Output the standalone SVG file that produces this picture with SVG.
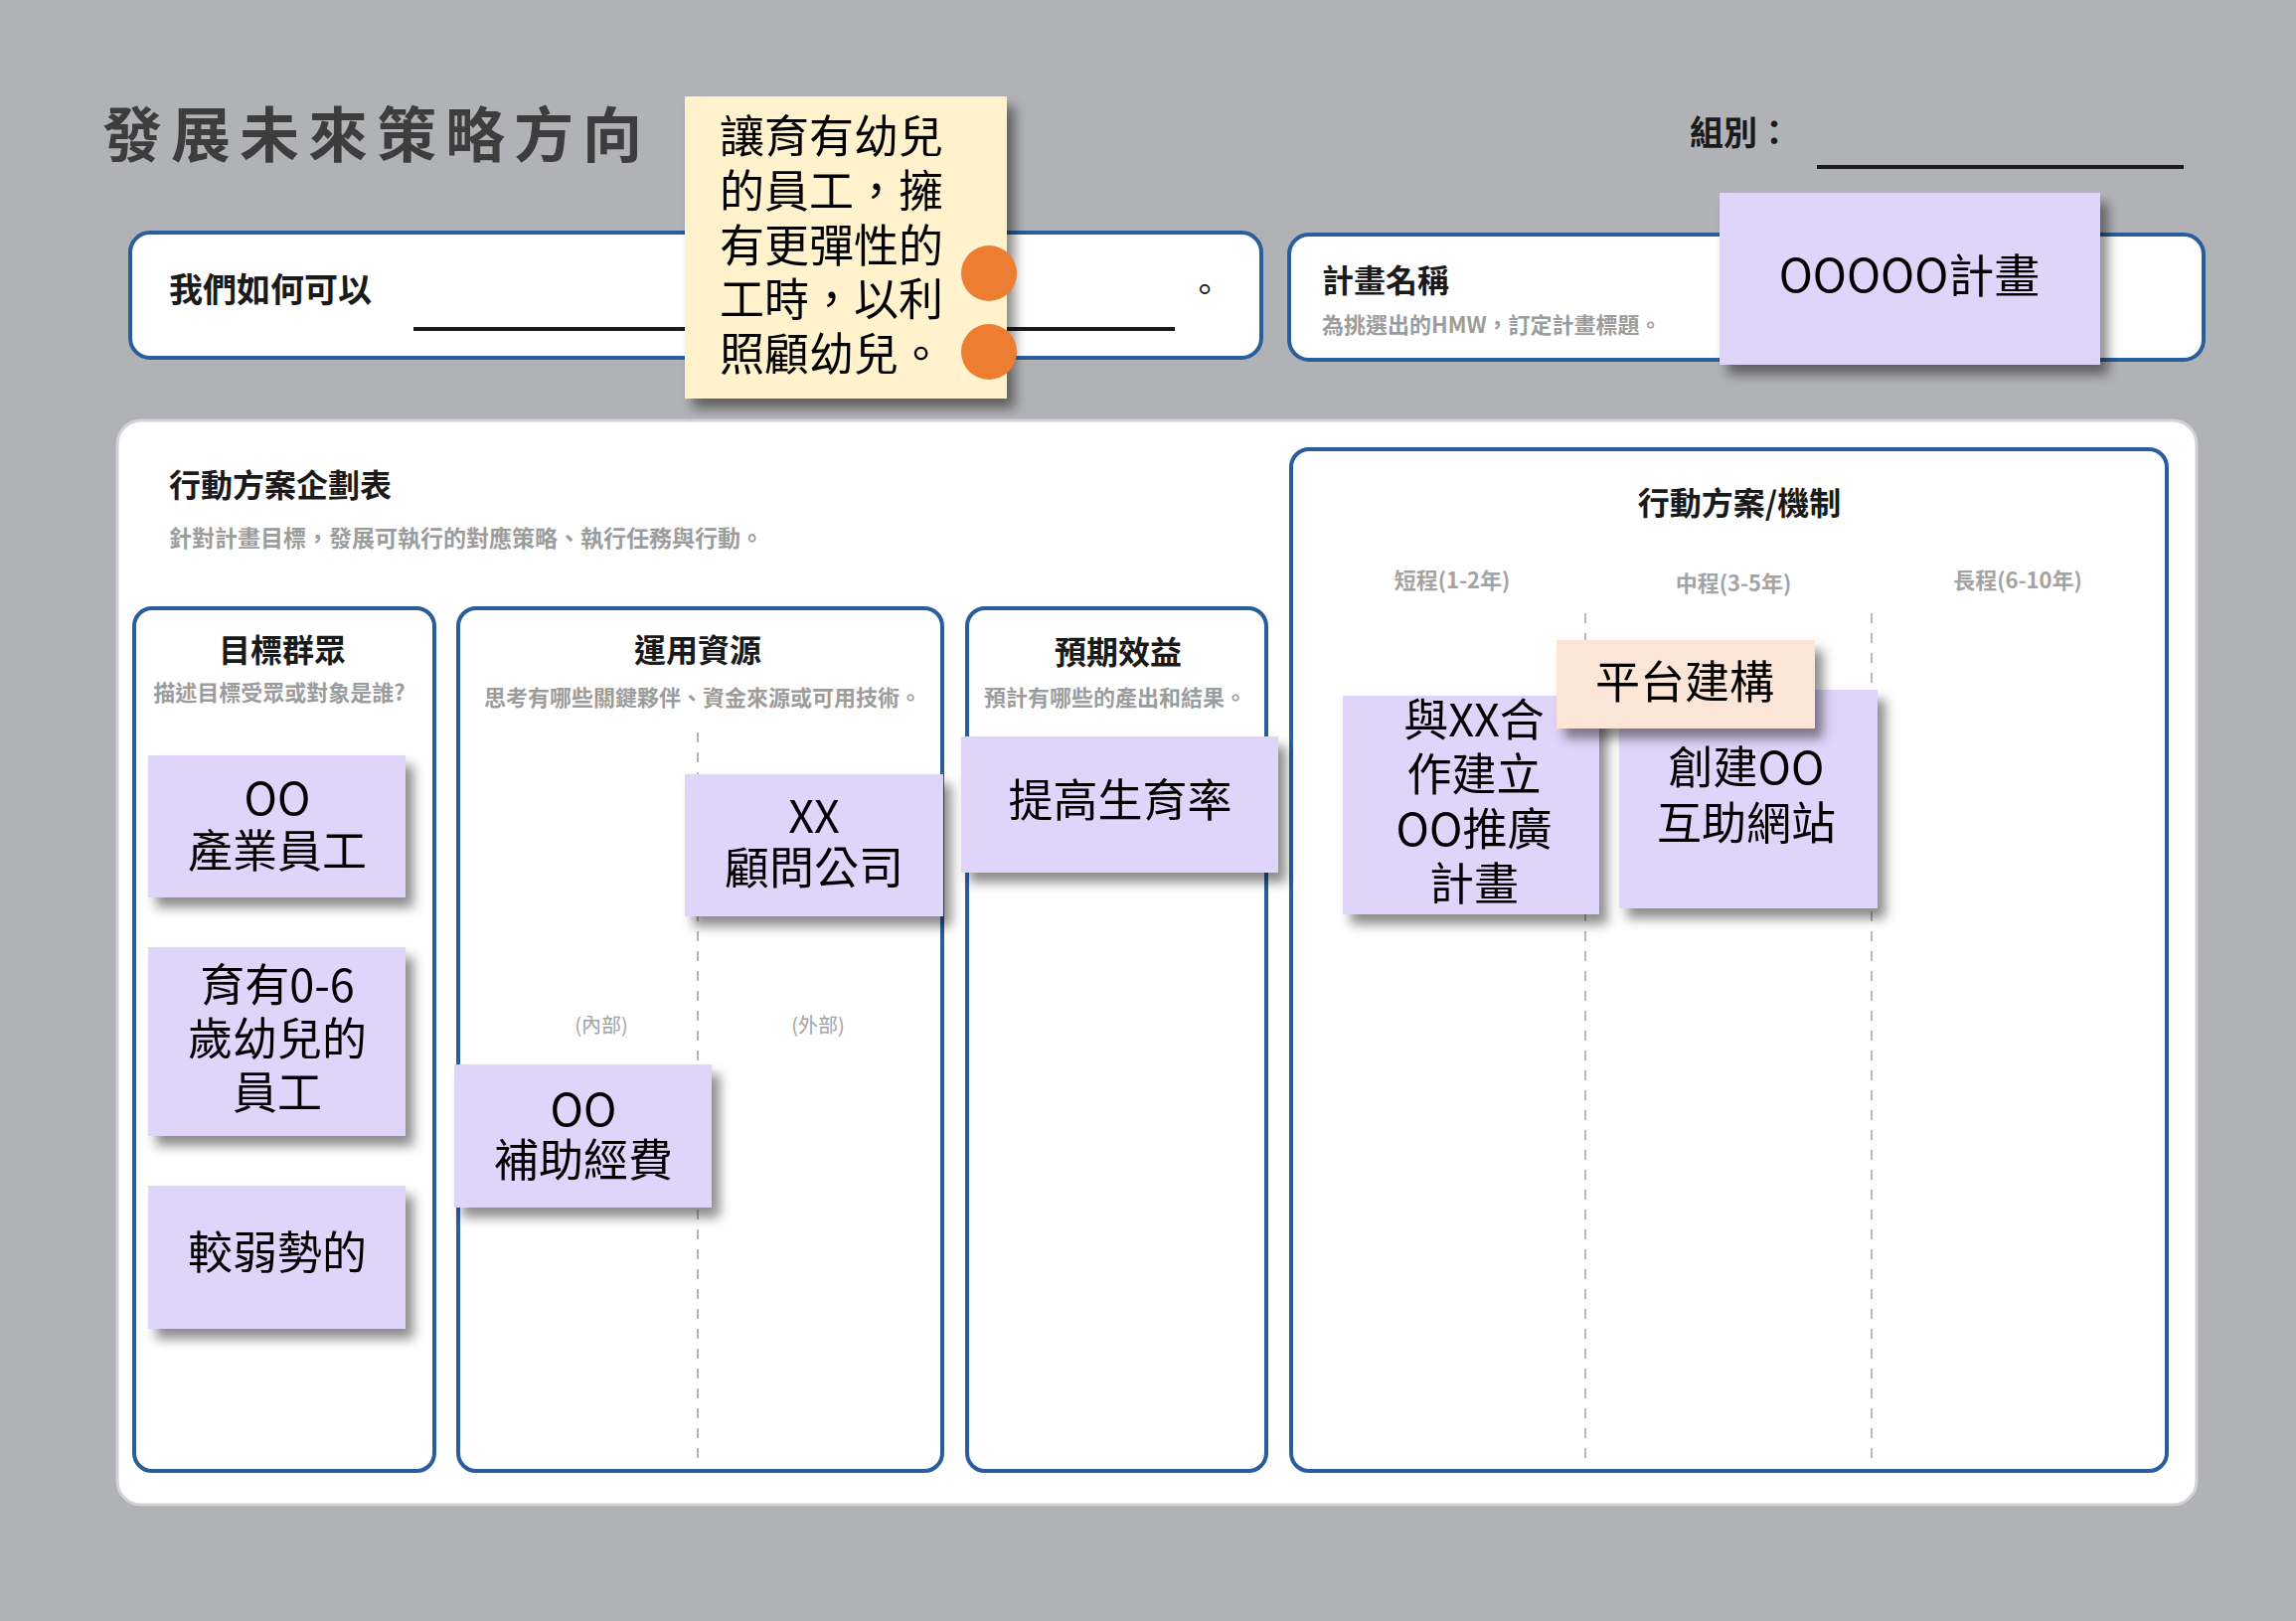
<svg xmlns="http://www.w3.org/2000/svg" width="2310" height="1631" viewBox="0 0 2310 1631">
<defs>
<filter id="sh" x="-20%" y="-20%" width="150%" height="150%">
<feDropShadow dx="8" dy="10" stdDeviation="6" flood-color="#000" flood-opacity="0.45"/>
</filter>
</defs>
<style>
text{font-family:"Noto Sans CJK TC","Noto Sans CJK SC","Noto Sans",sans-serif;fill:#000}
.box{fill:#fff;stroke:#2a5d9c;stroke-width:4}
.hd{font-size:32px;font-weight:bold;fill:#1a1a1a}
.sub{font-size:22px;font-weight:bold;fill:#9c9c9c}
.tm{font-size:22px;font-weight:bold;fill:#a3a3a3}
.dash{stroke:#a0a0a0;stroke-width:1.5;stroke-dasharray:10 10;fill:none}
.st{filter:url(#sh)}
.pu{fill:#dfd5fb}
.pe{fill:#fbe5d6}
.ye{fill:#fff2cc}
.nt{font-size:45px;text-anchor:middle}
</style>
<rect x="0" y="0" width="2310" height="1631" fill="#b1b2b6"/>

<g id="title">
<text x="103" y="158" style="font-size:60px;font-weight:bold;fill:#3d3d3d;letter-spacing:9px">發展未來策略方向</text>
</g>

<g id="group-label">
<text x="1700" y="146" style="font-size:34px;font-weight:bold;fill:#1a1a1a">組別：</text>
<line x1="1828" y1="168" x2="2197" y2="168" stroke="#1a1a1a" stroke-width="4"/>
</g>

<g id="hmw-box">
<rect class="box" x="131" y="234" width="1138" height="126" rx="20"/>
<text x="170" y="304" style="font-size:34px;font-weight:bold;fill:#1a1a1a">我們如何可以</text>
<line x1="416" y1="331" x2="1182" y2="331" stroke="#1a1a1a" stroke-width="4"/>
<text x="1195" y="304" style="font-size:34px;fill:#1a1a1a">。</text>
</g>

<g id="plan-box">
<rect class="box" x="1297" y="236" width="920" height="126" rx="20"/>
<text x="1330" y="294" style="font-size:32px;font-weight:bold;fill:#1a1a1a">計畫名稱</text>
<text x="1330" y="335" style="font-size:22px;font-weight:bold;fill:#9c9c9c">為挑選出的HMW，訂定計畫標題。</text>
</g>

<g id="hmw-note" class="st">
<rect class="ye" x="689" y="97" width="324" height="304"/>
<text style="font-size:45px"><tspan x="724" y="154">讓育有幼兒</tspan><tspan x="724" y="209">的員工，擁</tspan><tspan x="724" y="264">有更彈性的</tspan><tspan x="724" y="318">工時，以利</tspan><tspan x="724" y="373">照顧幼兒。</tspan></text>
</g>
<g id="dots">
<circle cx="995" cy="275" r="28" fill="#ed7d31"/>
<circle cx="995" cy="354" r="28" fill="#ed7d31"/>
</g>

<g id="plan-note" class="st">
<rect class="pu" x="1730" y="194" width="383" height="173"/>
<text x="1921" y="294" style="font-size:46px;text-anchor:middle">OOOOO計畫</text>
</g>

<g id="panel">
<rect x="118" y="423" width="2092" height="1091" rx="24" fill="#fff" stroke="#d2d2d4" stroke-width="3"/>
<text x="170" y="500" class="hd">行動方案企劃表</text>
<text x="170" y="550" style="font-size:23px;font-weight:bold;fill:#9c9c9c">針對計畫目標，發展可執行的對應策略、執行任務與行動。</text>
</g>

<g id="col-target">
<rect class="box" x="135" y="612" width="302" height="868" rx="18"/>
<text x="284" y="666" class="hd" text-anchor="middle">目標群眾</text>
<text x="281" y="705" class="sub" text-anchor="middle">描述目標受眾或對象是誰?</text>
</g>

<g id="col-resource">
<rect class="box" x="461" y="612" width="487" height="868" rx="18"/>
<text x="702" y="666" class="hd" text-anchor="middle">運用資源</text>
<text x="707" y="710" class="sub" text-anchor="middle">思考有哪些關鍵夥伴、資金來源或可用技術。</text>
<line class="dash" x1="702" y1="737" x2="702" y2="1472"/>
<text x="605" y="1039" style="font-size:20px;fill:#a3a3a3;text-anchor:middle">(內部)</text>
<text x="823" y="1039" style="font-size:20px;fill:#a3a3a3;text-anchor:middle">(外部)</text>
</g>

<g id="col-benefit">
<rect class="box" x="973" y="612" width="301" height="868" rx="18"/>
<text x="1125" y="668" class="hd" text-anchor="middle">預期效益</text>
<text x="1122" y="710" class="sub" text-anchor="middle">預計有哪些的產出和結果。</text>
</g>

<g id="col-action">
<rect class="box" x="1299" y="452" width="881" height="1028" rx="18"/>
<text x="1750" y="518" class="hd" text-anchor="middle">行動方案/機制</text>
<text x="1461" y="592" class="tm" text-anchor="middle">短程(1-2年)</text>
<text x="1744" y="595" class="tm" text-anchor="middle">中程(3-5年)</text>
<text x="2030" y="592" class="tm" text-anchor="middle">長程(6-10年)</text>
<line class="dash" x1="1595" y1="617" x2="1595" y2="1475"/>
<line class="dash" x1="1883" y1="617" x2="1883" y2="1475"/>
</g>

<g id="note-industry" class="st">
<rect class="pu" x="149" y="760" width="259" height="143"/>
<text class="nt"><tspan x="279" y="820">OO</tspan><tspan x="279" y="873">產業員工</tspan></text>
</g>
<g id="note-parents" class="st">
<rect class="pu" x="149" y="953" width="259" height="190"/>
<text class="nt"><tspan x="279" y="1008">育有0-6</tspan><tspan x="279" y="1062">歲幼兒的</tspan><tspan x="279" y="1116">員工</tspan></text>
</g>
<g id="note-weak" class="st">
<rect class="pu" x="149" y="1193" width="259" height="144"/>
<text class="nt" x="279" y="1277">較弱勢的</text>
</g>
<g id="note-consult" class="st">
<rect class="pu" x="689" y="779" width="260" height="143"/>
<text class="nt"><tspan x="819" y="838">XX</tspan><tspan x="819" y="890">顧問公司</tspan></text>
</g>
<g id="note-subsidy" class="st">
<rect class="pu" x="457" y="1071" width="259" height="144"/>
<text class="nt"><tspan x="587" y="1133">OO</tspan><tspan x="587" y="1184">補助經費</tspan></text>
</g>
<g id="note-birthrate" class="st">
<rect class="pu" x="967" y="741" width="319" height="137"/>
<text class="nt" x="1127" y="822">提高生育率</text>
</g>
<g id="note-coop" class="st">
<rect class="pu" x="1351" y="700" width="258" height="220"/>
<text class="nt"><tspan x="1483" y="741">與XX合</tspan><tspan x="1483" y="796">作建立</tspan><tspan x="1483" y="851">OO推廣</tspan><tspan x="1483" y="906">計畫</tspan></text>
</g>
<g id="note-website" class="st">
<rect class="pu" x="1629" y="694" width="260" height="220"/>
<text class="nt"><tspan x="1757" y="789">創建OO</tspan><tspan x="1757" y="845">互助網站</tspan></text>
</g>
<g id="note-platform" class="st">
<rect class="pe" x="1566" y="644" width="260" height="89"/>
<text class="nt" x="1695" y="703">平台建構</text>
</g>
</svg>
